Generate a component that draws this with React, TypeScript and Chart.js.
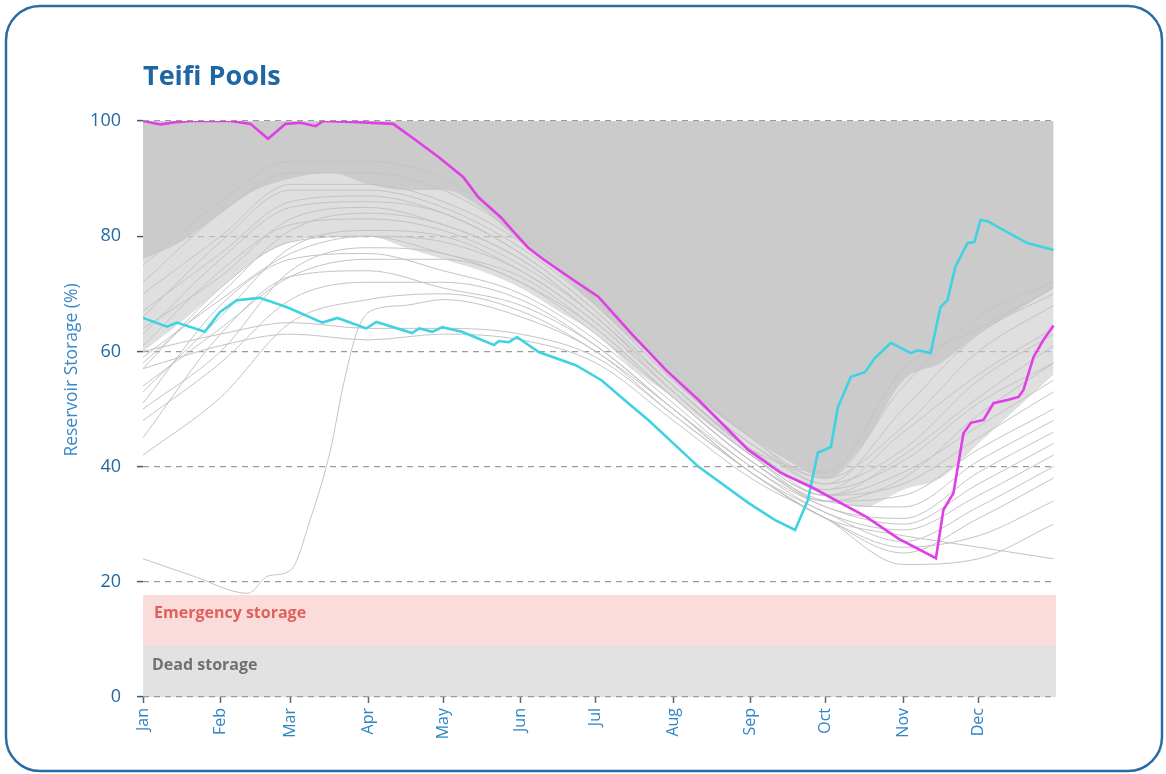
import React, { useEffect, useRef } from "react";
import { Chart, registerables } from "chart.js";

Chart.register(...registerables);

// Axis categories
const MONTH_LABELS = ["Jan", "Feb", "Mar", "Apr", "May", "Jun", "Jul", "Aug", "Sep", "Oct", "Nov", "Dec"];
const MONTH_START_DAYS = [0, 31, 59, 90, 120, 151, 181, 212, 243, 273, 304, 334];
const Y_TICKS = [0, 20, 40, 60, 80, 100];

// Highlighted years (day of year, storage %)
const MAGENTA_DAYS = [0, 7, 13, 19, 35, 43, 50, 57, 63, 69, 72, 86, 100, 108, 118, 128, 134, 143, 150, 154, 160, 170, 182, 195, 209, 222, 242, 255, 267, 289, 302, 317, 320, 324, 328, 331, 336, 340, 346, 350, 352, 356, 360, 364];
const MAGENTA_VALUES = [100, 99.4, 99.8, 100, 100, 99.5, 96.9, 99.5, 99.7, 99.1, 100, 99.8, 99.5, 97, 93.8, 90.3, 86.8, 83.3, 79.9, 78, 76, 73, 69.5, 63.2, 56.8, 51.6, 42.9, 38.9, 36.5, 31.3, 27.5, 24.1, 32.5, 35.4, 45.8, 47.6, 48.1, 51, 51.6, 52.1, 53.3, 59, 62, 64.5];

const CYAN_DAYS = [0, 9.6, 13.6, 24.7, 30.7, 37.5, 46.6, 57.4, 71.7, 77.7, 89.3, 93.3, 107.6, 110.4, 115.6, 119.6, 127.5, 140.3, 142.3, 146.3, 149.5, 158.2, 173, 183.3, 194, 202, 222, 242, 252.7, 260.7, 265.8, 269.8, 275, 277.8, 283, 288.6, 292.5, 299, 307, 309.7, 314.9, 318.8, 321.6, 324.8, 329.6, 332.4, 334.8, 337.6, 353.5, 364];
const CYAN_VALUES = [65.8, 64.3, 65, 63.4, 66.8, 68.9, 69.3, 67.7, 65, 65.8, 64, 65.1, 63.2, 64, 63.4, 64.2, 63.4, 61.1, 61.8, 61.6, 62.5, 59.9, 57.6, 55, 51, 48.1, 40, 33.7, 30.7, 29, 34.2, 42.4, 43.4, 50.3, 55.6, 56.4, 58.8, 61.5, 59.7, 60.2, 59.7, 67.7, 68.9, 74.7, 78.8, 79, 82.8, 82.6, 78.8, 77.6];

// Ensemble of simulated years: dense core and its looser outer spread (lower edges; both reach 100)
const ENVELOPE_DAYS = [0, 15, 31, 45, 59, 75, 90, 105, 120, 135, 151, 166, 181, 196, 212, 227, 243, 258, 273, 288, 304, 319, 334, 349, 364];
const CORE_LOWER = [76, 79, 84, 88, 90, 91, 89, 88, 88, 85, 79, 74, 68, 62, 56, 50, 45, 41, 38, 44, 55, 58, 63, 67, 71];
const SPREAD_LOWER = [60, 65, 71, 76, 79, 80, 80, 78, 76, 74, 71, 67, 63, 57, 52, 47, 42, 38, 35, 33, 36, 38, 44, 50, 56];

// Individual ensemble members (values at month starts + year end)
const TRACE_DAYS = [0, 31, 59, 90, 120, 151, 181, 212, 243, 273, 304, 334, 364];
const TRACE_A = [75, 86, 93, 93, 90, 81, 70, 57, 45, 38, 47, 60, 68];
const TRACE_B = [70, 80, 89, 89, 86, 79, 68, 55, 44, 37, 43, 55, 63];
const TRACE_C = [67, 77, 86, 87, 84, 77, 67, 54, 43, 36, 41, 51, 58];
const TRACE_D = [64, 73, 83, 85, 82, 76, 66, 54, 43, 35, 39, 47, 55];
const TRACE_E = [61, 74, 82, 83, 81, 75, 66, 53, 42, 35, 37, 45, 53];
const TRACE_F = [59, 69, 77, 80, 79, 74, 65, 53, 42, 34, 35, 43, 50];
const TRACE_G = [57, 71, 79, 80, 77, 73, 64, 52, 41, 34, 33, 41, 48];
const TRACE_H = [54, 64, 73, 76, 76, 72, 63, 52, 41, 33, 31, 39, 46];
const TRACE_I = [51, 68, 76, 77, 74, 70, 62, 51, 40, 33, 30, 37, 44];
const TRACE_J = [48, 58, 69, 72, 72, 69, 61, 50, 40, 32, 29, 35, 42];
const TRACE_K = [45, 63, 73, 74, 71, 68, 61, 50, 39, 32, 27, 33, 40];
const TRACE_L = [42, 52, 65, 69, 70, 67, 60, 50, 39, 31, 25, 31, 38];
const TRACE_M = [60, 63, 65, 64, 64, 63, 59, 49, 39, 31, 26, 28, 34];
const TRACE_N = [57, 61, 63, 62, 63, 62, 58, 48, 38, 31, 23, 24, 30];
const TRACE_O = [72, 84, 91, 91, 88, 80, 69, 56, 45, 37, 50, 63, 70];
const TRACE_P = [66, 79, 88, 88, 85, 78, 68, 55, 44, 38, 54, 66, 72];
const TRACE_Q = [63, 76, 85, 86, 84, 77, 67, 54, 43, 39, 57, 64, 71];
const TRACE_R = [58, 70, 81, 84, 82, 76, 66, 54, 43, 36, 46, 56, 64];
const TRACE_S = [53, 66, 78, 81, 80, 74, 65, 53, 42, 35, 42, 52, 61];
const TRACE_T = [50, 60, 74, 78, 77, 72, 64, 52, 41, 34, 38, 49, 58];
const TRACES = [TRACE_A, TRACE_B, TRACE_C, TRACE_D, TRACE_E, TRACE_F, TRACE_G, TRACE_H, TRACE_I, TRACE_J, TRACE_K, TRACE_L, TRACE_M, TRACE_N, TRACE_O, TRACE_P, TRACE_Q, TRACE_R, TRACE_S, TRACE_T];

// Dry-start member that drops near emergency level before refilling in March
const LOW_TRACE_DAYS = [0, 20, 42, 50, 59, 67, 75, 80, 86, 91, 105, 120, 151, 181, 212, 243, 273, 304, 319, 334, 364];
const LOW_TRACE_VALUES = [24, 21, 18, 21, 22, 31, 43, 54, 64, 67, 68, 69, 66, 60, 49, 39, 31, 28, 27, 26, 24];

// Storage zones (%)
const EMERGENCY_TOP = 17.7;
const DEAD_TOP = 9;

const FONT = '"Open Sans", "Noto Sans", sans-serif';

const toPoints = (days: number[], values: number[]) => days.map((d, i) => ({ x: d, y: values[i] }));

const decorPlugin = {
  id: "decor",
  beforeDraw(chart: any) {
    const { ctx, chartArea, scales } = chart;
    const y = scales.y;
    const { left, right } = chartArea;
    ctx.save();
    ctx.fillStyle = "#ffffff";
    ctx.fillRect(0, 0, chart.width, chart.height);
    const yE = y.getPixelForValue(EMERGENCY_TOP);
    const yD = y.getPixelForValue(DEAD_TOP);
    const y0 = y.getPixelForValue(0);
    ctx.fillStyle = "#fadcdb";
    ctx.fillRect(left, yE, right - left, yD - yE);
    ctx.fillStyle = "#e2e2e2";
    ctx.fillRect(left, yD, right - left, y0 - yD);
    ctx.font = `bold 16px ${FONT}`;
    ctx.textBaseline = "alphabetic";
    ctx.textAlign = "left";
    ctx.fillStyle = "#e0605e";
    ctx.fillText("Emergency storage", left + 11, yE + 23);
    ctx.fillStyle = "#707070";
    ctx.fillText("Dead storage", left + 9, yD + 25);
    ctx.restore();
  },
  afterDraw(chart: any) {
    const { ctx } = chart;
    ctx.save();
    // title
    ctx.font = `bold 27px ${FONT}`;
    ctx.fillStyle = "#1f66a3";
    ctx.textAlign = "left";
    ctx.textBaseline = "alphabetic";
    ctx.fillText("Teifi Pools", 143, 85);
    // y-axis title
    ctx.translate(72, 370);
    ctx.rotate(-Math.PI / 2);
    ctx.font = `17.5px ${FONT}`;
    ctx.fillStyle = "#3a8ac6";
    ctx.textAlign = "center";
    ctx.textBaseline = "middle";
    ctx.fillText("Reservoir Storage (%)", 0, 0);
    ctx.restore();
    // rounded frame
    ctx.save();
    ctx.strokeStyle = "#2a6ba6";
    ctx.lineWidth = 2.5;
    ctx.beginPath();
    ctx.roundRect(6, 6, 1156, 765, 34);
    ctx.stroke();
    ctx.restore();
  },
};

export default function App() {
  const canvasRef = useRef<HTMLCanvasElement | null>(null);

  useEffect(() => {
    if (!canvasRef.current) return;
    const traceSets = TRACES.map((vals) => ({
      data: toPoints(TRACE_DAYS, vals),
      borderColor: "#c4c4c4",
      borderWidth: 1,
      tension: 0.35,
      cubicInterpolationMode: "monotone" as const,
      fill: false,
      order: 5,
    }));

    const chart = new Chart(canvasRef.current, {
      type: "line",
      data: {
        datasets: [
          {
            data: toPoints(MAGENTA_DAYS, MAGENTA_VALUES),
            borderColor: "#e03ee6",
            borderWidth: 2.6,
            tension: 0,
            fill: false,
            order: 0,
          },
          {
            data: toPoints(CYAN_DAYS, CYAN_VALUES),
            borderColor: "#3fd3e2",
            borderWidth: 2.6,
            tension: 0,
            fill: false,
            order: 1,
          },
          ...traceSets,
          {
            data: toPoints(LOW_TRACE_DAYS, LOW_TRACE_VALUES),
            borderColor: "#c4c4c4",
            borderWidth: 1,
            tension: 0.3,
            cubicInterpolationMode: "monotone",
            fill: false,
            order: 5,
          },
          {
            data: toPoints(ENVELOPE_DAYS, CORE_LOWER),
            borderWidth: 0,
            borderColor: "rgba(0,0,0,0)",
            backgroundColor: "#cbcbcb",
            tension: 0.35,
            cubicInterpolationMode: "monotone",
            fill: { value: 100 },
            order: 20,
          },
          {
            data: toPoints(ENVELOPE_DAYS, SPREAD_LOWER),
            borderWidth: 0,
            borderColor: "rgba(0,0,0,0)",
            backgroundColor: "rgba(203,203,203,0.62)",
            tension: 0.35,
            cubicInterpolationMode: "monotone",
            fill: { value: 100 },
            order: 21,
          },
        ] as any,
      },
      options: {
        animation: false,
        responsive: false,
        devicePixelRatio: 1,
        layout: { padding: { left: 0, top: 121, right: 110, bottom: 0 } },
        elements: { point: { radius: 0, hoverRadius: 0 } },
        plugins: { legend: { display: false }, tooltip: { enabled: false } },
        events: [],
        scales: {
          x: {
            type: "linear",
            min: 0,
            max: 365,
            afterBuildTicks: (s: any) => {
              s.ticks = MONTH_START_DAYS.map((v) => ({ value: v }));
            },
            afterFit: (s: any) => {
              s.height = 77;
            },
            ticks: {
              autoSkip: false,
              minRotation: 90,
              maxRotation: 90,
              padding: 5,
              color: "#2f84c2",
              font: { family: FONT, size: 16 },
              callback: (_v: any, i: number) => MONTH_LABELS[i] ?? "",
            },
            grid: { drawOnChartArea: false, drawTicks: true, tickLength: 6, tickColor: "#4d6b88", tickWidth: 1.5 },
            border: { display: false },
          },
          y: {
            min: 0,
            max: 100,
            afterBuildTicks: (s: any) => {
              s.ticks = Y_TICKS.map((v) => ({ value: v }));
            },
            afterFit: (s: any) => {
              s.width = 143;
            },
            ticks: {
              padding: 16,
              color: "#2369a3",
              font: { family: FONT, size: 18 },
            },
            grid: {
              color: "#9b9b9b",
              lineWidth: 1.2,
              tickLength: 6,
              tickColor: "#3d5c7a",
              tickWidth: 1.5,
              tickBorderDash: [],
            },
            border: { display: false, dash: [6, 5] },
          },
        },
      } as any,
      plugins: [decorPlugin],
    });
    return () => chart.destroy();
  }, []);

  return (
    <div style={{ position: "fixed", left: 0, top: 0, width: 1166, height: 774, background: "#fff" }}>
      <canvas ref={canvasRef} width={1166} height={774} style={{ display: "block" }} />
    </div>
  );
}
